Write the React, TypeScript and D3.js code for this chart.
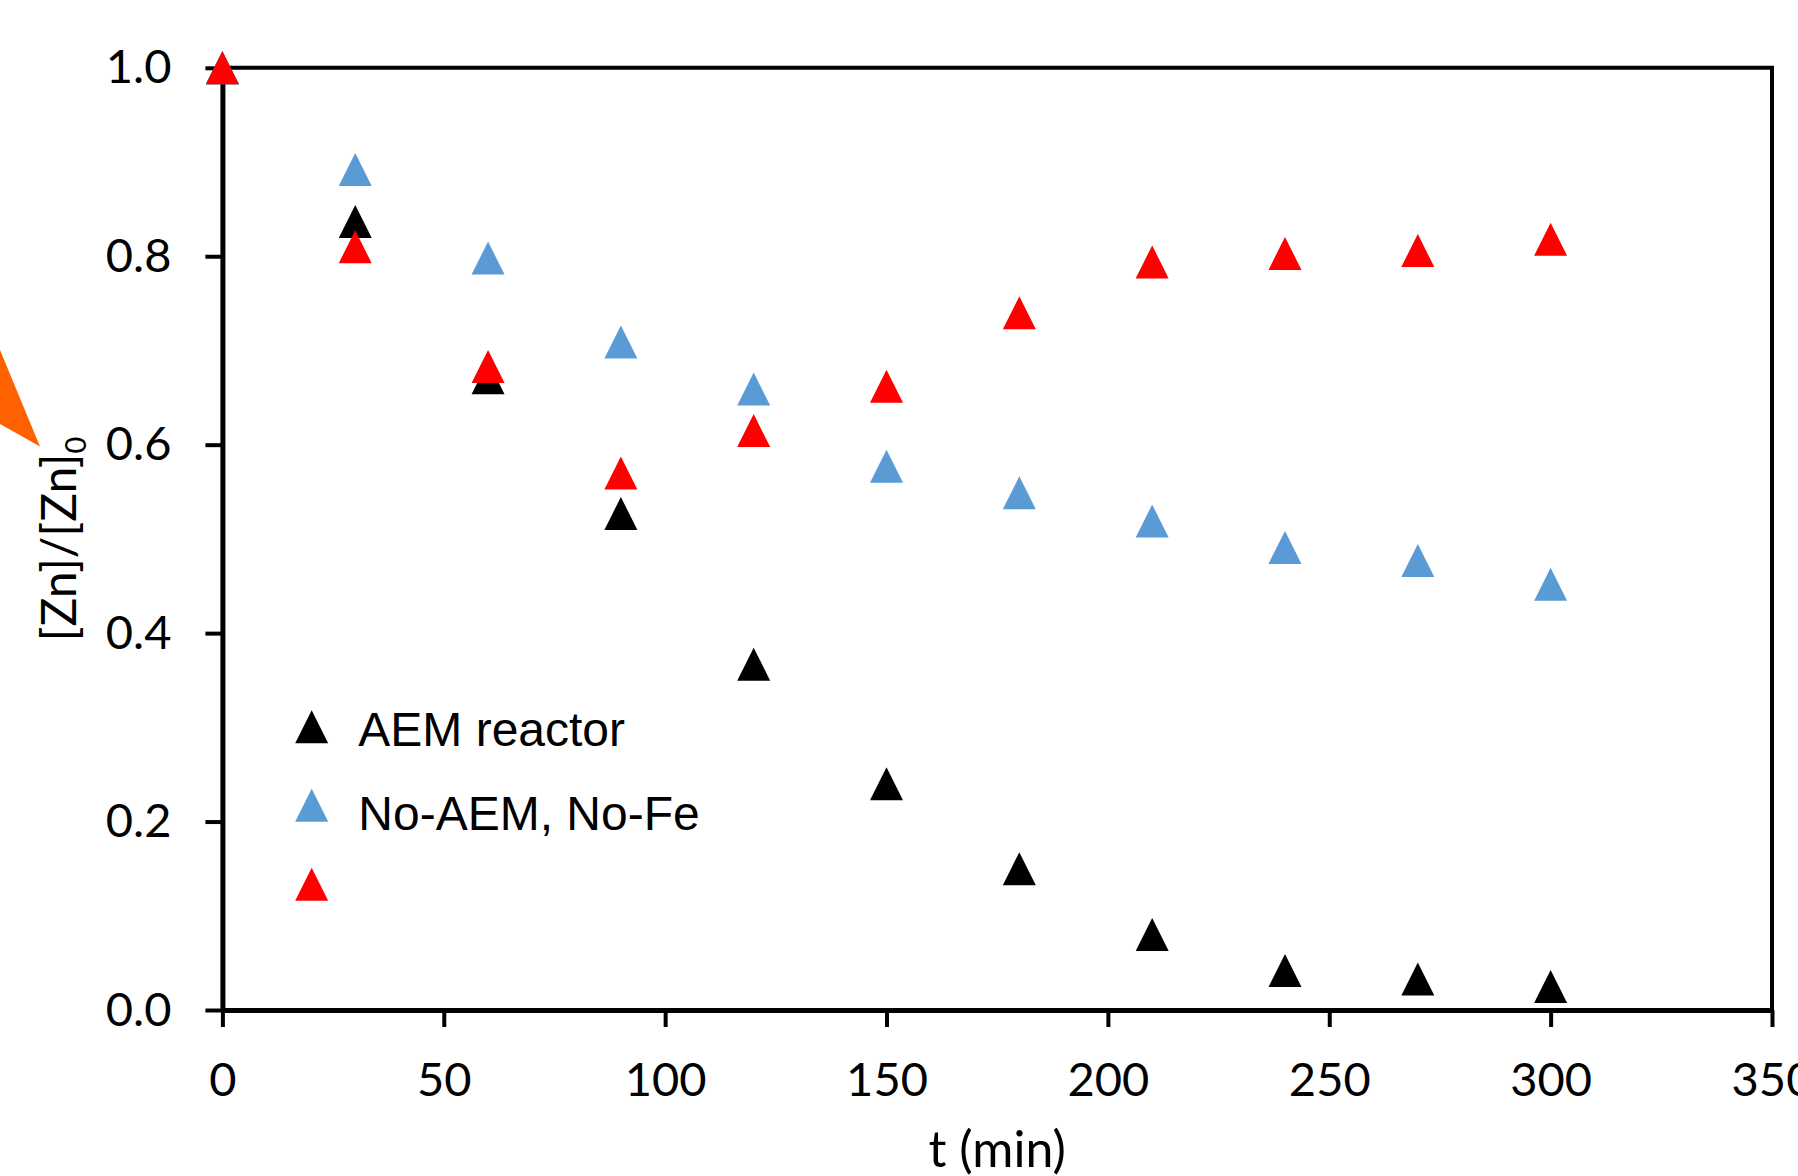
import React, { useEffect, useRef } from "react";
import * as d3 from "d3";

// sampling times (min)
const times = [0, 30, 60, 90, 120, 150, 180, 210, 240, 270, 300];

// [Zn]/[Zn]0
const aemReactor = [1.0, 0.837, 0.671, 0.527, 0.367, 0.24, 0.15, 0.08, 0.042, 0.033, 0.025];
const noAemNoFe = [1.0, 0.892, 0.798, 0.709, 0.659, 0.577, 0.549, 0.519, 0.491, 0.477, 0.452];
const unlabeled = [1.0, 0.81, 0.683, 0.57, 0.615, 0.662, 0.74, 0.794, 0.803, 0.806, 0.818];

const seriesNames = ["AEM reactor", "No-AEM, No-Fe", ""];
const seriesColors = ["#000000", "#5B9BD5", "#FF0000"];

const xTicks = [0, 50, 100, 150, 200, 250, 300, 350];
const yTicks = [0, 0.2, 0.4, 0.6, 0.8, 1.0];

const tickFont = "Lato, 'Open Sans', sans-serif";
const legendFont = "'Liberation Sans', Arial, sans-serif";

const App = () => {
  const svgRef = useRef(null);

  useEffect(() => {
    if (!svgRef.current) return;

    const width = 1798;
    const height = 1176;
    const plot = { left: 222.4, right: 1772, top: 67.8, bottom: 1010 };

    const svg = d3.select(svgRef.current).attr("width", width).attr("height", height);
    svg.selectAll("*").remove();

    const x = d3.scaleLinear().domain([0, 350]).range([plot.left, plot.right]);
    const y = d3.scaleLinear().domain([0, 1]).range([plot.bottom, plot.top]);

    const half = 16.5;
    const triangle = (cx, cy) =>
      `M${cx},${cy - half}L${cx + half},${cy + half}L${cx - half},${cy + half}Z`;

    // leftover orange shape cut by the left edge
    svg
      .append("polygon")
      .attr("points", "0,350 40,446.5 0,424")
      .attr("fill", "#FF6000");

    // frame: top and right
    svg
      .append("path")
      .attr("d", `M${plot.left},${plot.top}H${plot.right}V${plot.bottom}`)
      .attr("fill", "none")
      .attr("stroke", "#000")
      .attr("stroke-width", 4);

    // x axis
    const xAxis = svg
      .append("g")
      .attr("transform", `translate(0,${plot.bottom})`)
      .call(
        d3
          .axisBottom(x)
          .tickValues(xTicks)
          .tickSize(17)
          .tickSizeOuter(0)
          .tickPadding(36)
          .tickFormat(d3.format("d"))
      );
    xAxis.select(".domain").attr("stroke-width", 5);
    xAxis.selectAll(".tick line").attr("stroke-width", 4);
    xAxis
      .selectAll("text")
      .style("font-family", tickFont)
      .style("font-size", "47px")
      .attr("fill", "#000");

    // y axis
    const yAxis = svg
      .append("g")
      .attr("transform", `translate(${plot.left},0)`)
      .call(
        d3
          .axisLeft(y)
          .tickValues(yTicks)
          .tickSize(17)
          .tickSizeOuter(0)
          .tickPadding(34)
          .tickFormat(d3.format(".1f"))
      );
    yAxis.select(".domain").attr("stroke-width", 5);
    yAxis.selectAll(".tick line").attr("stroke-width", 4);
    yAxis
      .selectAll("text")
      .style("font-family", tickFont)
      .style("font-size", "47px")
      .attr("fill", "#000");

    // axis titles
    svg
      .append("text")
      .attr("x", (plot.left + plot.right) / 2)
      .attr("y", 1167)
      .attr("text-anchor", "middle")
      .style("font-family", tickFont)
      .style("font-size", "50px")
      .text("t (min)");

    const yTitle = svg
      .append("text")
      .attr("transform", `translate(76,${(plot.top + plot.bottom) / 2}) rotate(-90)`)
      .attr("text-anchor", "middle")
      .style("font-family", tickFont)
      .style("font-size", "48px");
    yTitle.append("tspan").text("[Zn]/[Zn]");
    yTitle.append("tspan").attr("dy", 10).style("font-size", "29px").text("0");

    // markers, red drawn last so it sits on top
    const allSeries = [aemReactor, noAemNoFe, unlabeled];
    allSeries.forEach((values, i) => {
      svg
        .append("g")
        .selectAll("path")
        .data(values)
        .enter()
        .append("path")
        .attr("d", (d, j) => triangle(x(times[j]), y(d)))
        .attr("fill", seriesColors[i]);
    });

    // legend
    const markerRows = [726.7, 805.3, 884.2];
    const textRows = [746, 830, 914];
    seriesNames.forEach((name, i) => {
      svg
        .append("path")
        .attr("d", triangle(311.7, markerRows[i]))
        .attr("fill", seriesColors[i]);
      svg
        .append("text")
        .attr("x", 358.3)
        .attr("y", textRows[i])
        .style("font-family", legendFont)
        .style("font-size", "48px")
        .text(name);
    });
  }, []);

  return (
    <div style={{ position: "absolute", left: 0, top: 0, width: 1798, height: 1176, overflow: "hidden", background: "#fff" }}>
      <svg ref={svgRef} style={{ display: "block" }}></svg>
    </div>
  );
};

export default App;
